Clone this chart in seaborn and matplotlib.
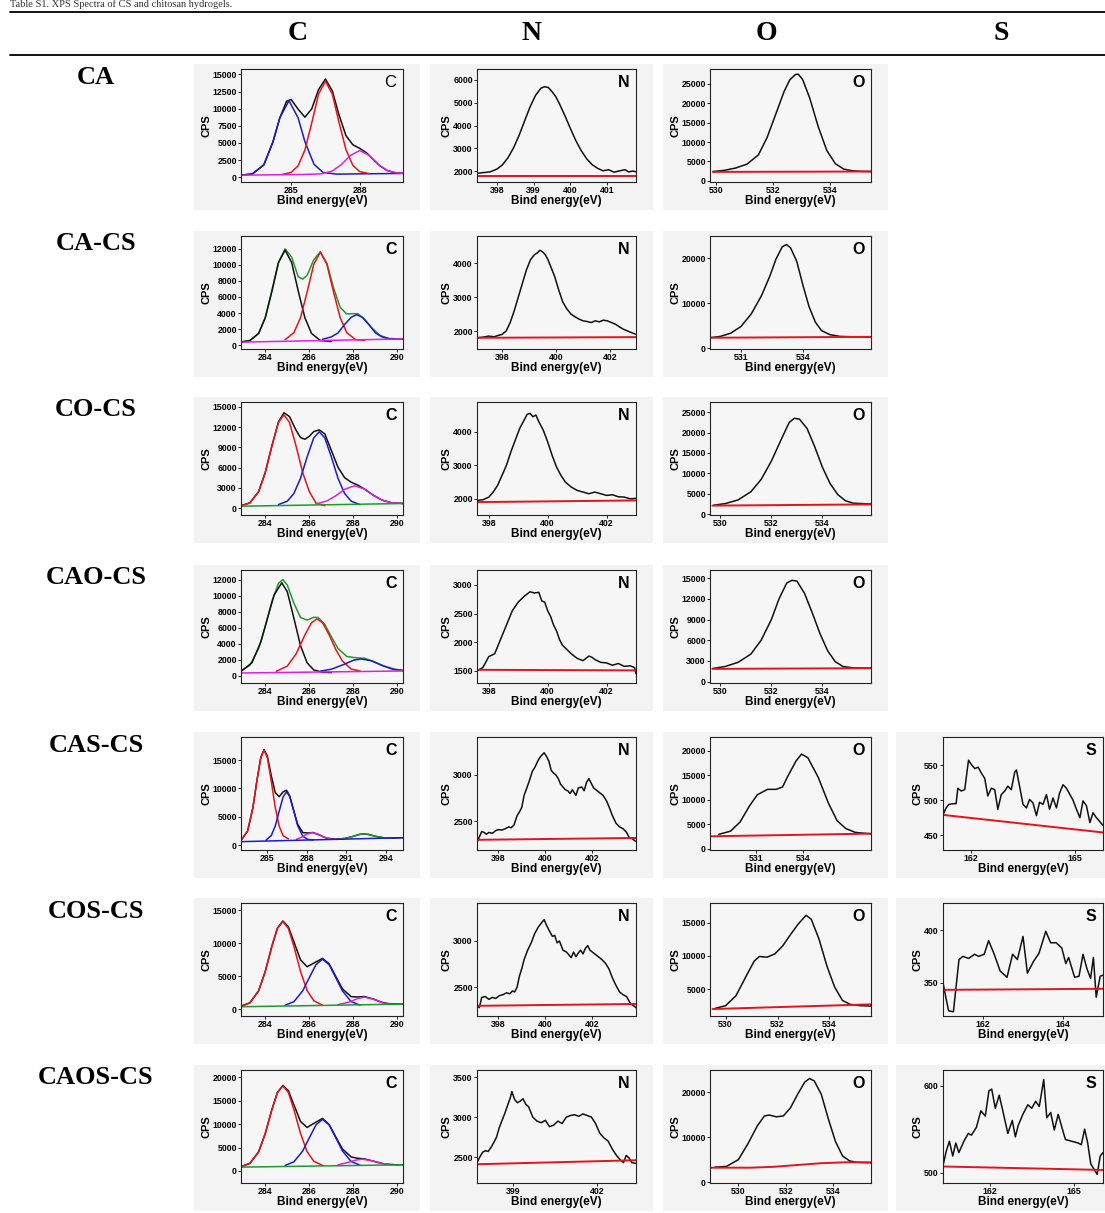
import matplotlib
matplotlib.use("Agg")
import matplotlib.pyplot as plt
import seaborn as sns
from matplotlib.lines import Line2D
from matplotlib.patches import Rectangle

W, H = 1105, 1213

samples = ["CA", "CA-CS", "CO-CS", "CAO-CS", "CAS-CS", "COS-CS", "CAOS-CS"]
elements = ["C", "N", "O", "S"]

# ---------------- C 1s ----------------
ca_c_env_x = [282.8, 283.3, 283.8, 284.2, 284.5, 284.8, 285.0, 285.3, 285.6, 285.9, 286.2, 286.5, 286.8, 287.1, 287.4, 287.7, 288.0, 288.3, 288.6, 288.9, 289.2, 289.5, 289.9]
ca_c_env_y = [300, 480, 1800, 5150, 8660, 11110, 11340, 9950, 8760, 9980, 12800, 14340, 12620, 9050, 6080, 4740, 4220, 3570, 2570, 1620, 990, 690, 570]
ca_c_p1_x = [282.8, 283.3, 283.8, 284.2, 284.5, 284.9, 285.3, 285.6, 286.0, 286.4, 287.0, 288.0, 289.9]
ca_c_p1_y = [300, 480, 1800, 5150, 8660, 11175, 8690, 5200, 1880, 690, 450, 490, 550]
ca_c_p2_x = [284.6, 285.0, 285.3, 285.6, 285.9, 286.2, 286.5, 286.8, 287.1, 287.4, 287.7, 288.0, 288.4]
ca_c_p2_y = [395, 710, 1650, 3960, 7910, 12140, 14030, 12160, 7950, 4020, 1740, 820, 540]
ca_c_p3_x = [282.8, 284.5, 285.5, 286.3, 286.8, 287.2, 287.6, 288.0, 288.4, 288.8, 289.2, 289.6, 289.9]
ca_c_p3_y = [300, 360, 395, 485, 900, 1855, 3190, 3890, 3220, 1915, 990, 640, 560]

cacs_c_env_x = [282.9, 283.3, 283.7, 284.0, 284.3, 284.6, 284.9, 285.2, 285.5, 285.7, 285.9, 286.2, 286.5, 286.8, 287.1, 287.4, 287.7, 288.0, 288.2, 288.5, 288.8, 289.2, 289.6, 290.25]
cacs_c_env_y = [430, 590, 1480, 3420, 6720, 10280, 11960, 10920, 8480, 8200, 8670, 10600, 11600, 10130, 7110, 4700, 3890, 3930, 3920, 3260, 2260, 1240, 860, 790]
cacs_c_p1_x = [282.9, 283.3, 283.7, 284.0, 284.3, 284.6, 284.9, 285.2, 285.5, 285.8, 286.1, 286.5, 287.0]
cacs_c_p1_y = [420, 590, 1480, 3410, 6700, 10250, 11800, 10250, 6700, 3410, 1480, 600, 470]
cacs_c_p2_x = [284.9, 285.3, 285.6, 285.9, 286.2, 286.5, 286.8, 287.1, 287.4, 287.7, 288.1, 288.5]
cacs_c_p2_y = [710, 1570, 3430, 6600, 10030, 11550, 10030, 6600, 3430, 1570, 710, 620]
cacs_c_p3_x = [286.6, 287.0, 287.3, 287.6, 287.9, 288.15, 288.4, 288.7, 289.0, 289.3, 289.7, 290.25]
cacs_c_p3_y = [760, 1050, 1540, 2580, 3490, 3800, 3490, 2580, 1540, 1050, 760, 780]
cacs_c_base_x = [282.9, 290.25]
cacs_c_base_y = [400, 800]

cocs_c_env_x = [282.9, 283.3, 283.7, 284.0, 284.3, 284.6, 284.85, 285.1, 285.4, 285.6, 285.8, 286.0, 286.2, 286.45, 286.7, 287.0, 287.3, 287.6, 287.9, 288.2, 288.5, 288.9, 289.3, 289.7, 290.25]
cocs_c_env_y = [370, 780, 2450, 5270, 9190, 12770, 14110, 13550, 11520, 10450, 10190, 10640, 11330, 11580, 11000, 8540, 6060, 4520, 3840, 3420, 2840, 1930, 1200, 830, 700]
cocs_c_p1_x = [282.9, 283.3, 283.7, 284.0, 284.3, 284.6, 284.85, 285.1, 285.4, 285.7, 286.0, 286.3, 286.7]
cocs_c_p1_y = [370, 780, 2450, 5260, 9170, 12680, 13800, 12680, 9170, 5260, 2450, 780, 370]
cocs_c_p2_x = [284.6, 285.0, 285.3, 285.6, 285.9, 286.2, 286.45, 286.7, 287.0, 287.3, 287.6, 287.9, 288.3]
cocs_c_p2_y = [540, 1040, 2180, 4430, 7580, 10400, 11300, 10400, 7580, 4430, 2180, 1040, 540]
cocs_c_p3_x = [286.3, 286.8, 287.2, 287.6, 288.05, 288.5, 288.9, 289.3, 289.7, 290.25]
cocs_c_p3_y = [620, 1080, 1840, 2790, 3320, 2840, 1930, 1200, 830, 700]
cocs_c_base_x = [282.9, 290.25]
cocs_c_base_y = [300, 700]

caocs_c_env_x = [282.9, 283.3, 283.7, 284.0, 284.3, 284.6, 284.8, 285.0, 285.3, 285.6, 285.9, 286.2, 286.4, 286.7, 287.0, 287.3, 287.7, 288.1, 288.5, 288.9, 289.4, 289.9, 290.25]
caocs_c_env_y = [650, 1290, 3430, 6140, 9240, 11540, 12010, 11320, 9060, 7270, 6950, 7300, 7270, 6420, 4870, 3410, 2410, 2250, 2190, 1810, 1210, 810, 690]
caocs_c_p1_x = [282.9, 283.4, 283.8, 284.1, 284.4, 284.75, 285.0, 285.3, 285.6, 285.9, 286.2, 286.6, 287.0]
caocs_c_p1_y = [540, 1640, 4210, 7180, 10080, 11600, 10500, 7180, 3760, 1620, 730, 430, 400]
caocs_c_p2_x = [284.5, 285.0, 285.4, 285.8, 286.1, 286.35, 286.6, 286.9, 287.2, 287.5, 287.9, 288.3]
caocs_c_p2_y = [560, 1210, 2730, 5100, 6630, 7100, 6630, 5100, 3280, 1840, 840, 600]
caocs_c_p3_x = [286.5, 287.0, 287.5, 288.0, 288.35, 288.8, 289.3, 289.8, 290.25]
caocs_c_p3_y = [580, 820, 1340, 1940, 2100, 1880, 1280, 800, 650]
caocs_c_base_x = [282.9, 290.25]
caocs_c_base_y = [350, 600]

cascs_c_env_x = [283.0, 283.5, 283.9, 284.2, 284.5, 284.75, 285.0, 285.3, 285.6, 285.9, 286.2, 286.45, 286.7, 287.0, 287.3, 287.7, 288.1, 288.5, 289.0, 289.5, 290.2, 290.9, 291.5, 292.0, 292.3, 292.7, 293.2, 293.8, 294.5, 295.3]
cascs_c_env_y = [830, 2470, 6560, 11250, 15450, 16870, 15720, 12230, 9270, 8550, 9410, 9700, 8680, 6130, 3690, 2180, 2140, 2190, 1730, 1210, 1040, 1165, 1520, 1885, 1980, 1870, 1550, 1295, 1250, 1300]
cascs_c_p1_x = [283.0, 283.5, 283.9, 284.2, 284.5, 284.75, 285.0, 285.3, 285.6, 285.9, 286.2, 286.6]
cascs_c_p1_y = [830, 2470, 6560, 11250, 15450, 16800, 15460, 11270, 6660, 3330, 1650, 1090]
cascs_c_p2_x = [284.9, 285.3, 285.6, 285.9, 286.2, 286.45, 286.7, 287.0, 287.3, 287.7, 288.1, 288.5]
cascs_c_p2_y = [870, 1690, 3360, 5990, 8540, 9400, 8570, 6050, 3450, 1520, 985, 910]
cascs_c_p3_x = [287.2, 287.6, 288.0, 288.4, 288.8, 289.3, 289.9, 290.4]
cascs_c_p3_y = [1005, 1385, 1925, 2210, 1970, 1380, 1050, 1020]
cascs_c_p4_x = [290.3, 290.9, 291.5, 292.0, 292.3, 292.7, 293.2, 293.8, 294.4]
cascs_c_p4_y = [1020, 1165, 1520, 1885, 1980, 1870, 1550, 1295, 1250]
cascs_c_base_x = [283.0, 295.3]
cascs_c_base_y = [600, 1300]

coscs_c_env_x = [282.9, 283.3, 283.7, 284.0, 284.3, 284.55, 284.8, 285.05, 285.3, 285.6, 285.9, 286.2, 286.6, 286.9, 287.2, 287.5, 287.9, 288.2, 288.5, 288.9, 289.3, 289.7, 290.25]
coscs_c_env_y = [490, 980, 2820, 5730, 9550, 12270, 13380, 12500, 10220, 7510, 6450, 7000, 7720, 6880, 4990, 3120, 1920, 1880, 1940, 1580, 1060, 820, 800]
coscs_c_p1_x = [282.9, 283.3, 283.7, 284.0, 284.3, 284.55, 284.8, 285.05, 285.3, 285.6, 285.9, 286.2, 286.6]
coscs_c_p1_y = [490, 980, 2820, 5730, 9550, 12270, 13300, 12250, 9550, 5740, 2850, 1320, 620]
coscs_c_p2_x = [284.9, 285.3, 285.7, 286.0, 286.3, 286.6, 286.9, 287.2, 287.5, 287.9, 288.3]
coscs_c_p2_y = [630, 1170, 2810, 4810, 6760, 7600, 6760, 4810, 2810, 1170, 650]
coscs_c_p3_x = [287.3, 287.8, 288.2, 288.5, 288.9, 289.3, 289.7]
coscs_c_p3_y = [720, 1100, 1650, 1850, 1540, 1010, 740]
coscs_c_base_x = [282.9, 290.25]
coscs_c_base_y = [400, 800]

caoscs_c_env_x = [282.9, 283.3, 283.7, 284.0, 284.3, 284.55, 284.8, 285.05, 285.3, 285.6, 285.9, 286.2, 286.6, 286.9, 287.2, 287.5, 287.9, 288.2, 288.5, 288.9, 289.4, 289.9, 290.25]
caoscs_c_env_y = [920, 1590, 4070, 7980, 13110, 16750, 18310, 17160, 14140, 10580, 9290, 10160, 11230, 9910, 7280, 4700, 2970, 2690, 2570, 2080, 1480, 1310, 1300]
caoscs_c_p1_x = [282.9, 283.3, 283.7, 284.0, 284.3, 284.55, 284.8, 285.05, 285.3, 285.6, 285.9, 286.2, 286.6]
caoscs_c_p1_y = [920, 1590, 4070, 7980, 13110, 16750, 18200, 16770, 13140, 8010, 4110, 2080, 1150]
caoscs_c_p2_x = [284.9, 285.3, 285.7, 286.0, 286.3, 286.6, 286.9, 287.2, 287.5, 287.9, 288.3]
caoscs_c_p2_y = [1160, 1940, 4250, 7080, 9840, 11030, 9840, 7100, 4280, 1990, 1220]
caoscs_c_p3_x = [287.3, 287.8, 288.1, 288.4, 288.8, 289.2, 289.7]
caoscs_c_p3_y = [1290, 1870, 2300, 2500, 2200, 1650, 1280]
caoscs_c_base_x = [282.9, 290.25]
caoscs_c_base_y = [800, 1300]

# ---------------- N 1s ----------------
ca_n_x = [397.45, 397.6, 397.8, 398.0, 398.15, 398.3, 398.45, 398.6, 398.75, 398.9,
          399.05, 399.2, 399.3, 399.4, 399.5, 399.6, 399.7, 399.85, 400.0, 400.15,
          400.3, 400.45, 400.6, 400.75, 400.9, 401.05, 401.2, 401.35, 401.5, 401.6,
          401.7, 401.8]
ca_n_y = [1900, 1930, 1960, 2090, 2280, 2590, 3020, 3560, 4190, 4810,
          5320, 5640, 5700, 5670, 5490, 5280, 4970, 4450, 3890, 3350,
          2900, 2540, 2280, 2120, 2010, 2060, 1950, 2010, 2060, 1960,
          2000, 1970]
ca_n_base_x = [397.45, 401.8]
ca_n_base_y = [1800, 1800]

cacs_n_x = [397.07, 397.3, 397.5, 397.7, 397.9, 398.0, 398.15, 398.3, 398.45, 398.6,
            398.75, 398.9, 399.05, 399.2, 399.3, 399.4, 399.5, 399.6, 399.7, 399.8,
            399.95, 400.1, 400.25, 400.4, 400.55, 400.7, 400.85, 401.0, 401.15, 401.3,
            401.45, 401.6, 401.75, 401.9, 402.05, 402.2, 402.35, 402.5, 402.65, 402.8,
            402.96]
cacs_n_y = [1800, 1820, 1850, 1830, 1880, 1900, 2000, 2250, 2600, 3000,
            3400, 3800, 4100, 4250, 4300, 4380, 4330, 4250, 4100, 3900,
            3600, 3200, 2850, 2650, 2500, 2420, 2350, 2300, 2280, 2250,
            2300, 2270, 2320, 2300, 2250, 2200, 2120, 2050, 2000, 1950,
            1900]
cacs_n_base_x = [397.07, 402.96]
cacs_n_base_y = [1800, 1820]

cocs_n_x = [397.6, 397.8, 398.0, 398.15, 398.3, 398.45, 398.6, 398.75, 398.9, 399.05,
            399.2, 399.3, 399.4, 399.5, 399.6, 399.7, 399.85, 400.0, 400.15, 400.3,
            400.45, 400.6, 400.8, 401.0, 401.2, 401.4, 401.6, 401.8, 402.0, 402.2,
            402.4, 402.6, 402.8, 403.0]
cocs_n_y = [1950, 1970, 2050, 2200, 2400, 2700, 3000, 3400, 3750, 4100,
            4350, 4520, 4550, 4450, 4500, 4300, 4050, 3700, 3300, 2950,
            2700, 2500, 2350, 2250, 2200, 2150, 2200, 2150, 2100, 2120,
            2060, 2050, 2000, 2010]
cocs_n_base_x = [397.6, 403.0]
cocs_n_base_y = [1900, 1950]

caocs_n_x = [397.6, 397.8, 398.0, 398.2, 398.4, 398.6, 398.8, 399.0, 399.2, 399.4,
             399.55, 399.7, 399.8, 399.9, 400.0, 400.1, 400.2, 400.3, 400.4, 400.5,
             400.6, 400.8, 401.0, 401.2, 401.4, 401.5, 401.6, 401.8, 402.0, 402.2,
             402.4, 402.6, 402.8, 402.95, 403.0]
caocs_n_y = [1500, 1560, 1750, 1800, 2050, 2300, 2550, 2700, 2800, 2880,
             2860, 2870, 2720, 2700, 2550, 2450, 2300, 2200, 2050, 1950,
             1900, 1800, 1720, 1680, 1760, 1740, 1700, 1650, 1640, 1600,
             1630, 1580, 1590, 1560, 1450]
caocs_n_base_x = [397.6, 403.0]
caocs_n_base_y = [1520, 1510]

cascs_n_x = [397.1, 397.15, 397.3, 397.4, 397.5, 397.6, 397.75, 397.9, 398.0, 398.15,
             398.3, 398.45, 398.55, 398.67, 398.8, 398.9, 399.0, 399.1, 399.2, 399.3,
             399.45, 399.55, 399.7, 399.8, 399.95, 400.05, 400.15, 400.25, 400.35, 400.45,
             400.55, 400.65, 400.75, 400.85, 400.95, 401.05, 401.15, 401.3, 401.4, 401.55,
             401.65, 401.75, 401.85, 401.95, 402.05, 402.2, 402.35, 402.45, 402.6, 402.7,
             402.85, 403.0, 403.15, 403.3, 403.45, 403.55, 403.7, 403.85]
cascs_n_y = [2280, 2300, 2390, 2380, 2360, 2380, 2370, 2400, 2410, 2405,
             2420, 2440, 2430, 2460, 2560, 2600, 2650, 2780, 2850, 2920,
             3040, 3080, 3160, 3200, 3240, 3200, 3150, 3050, 3020, 3000,
             2960, 2900, 2870, 2840, 2830, 2800, 2840, 2780, 2860, 2870,
             2830, 2920, 2960, 2910, 2860, 2830, 2800, 2780, 2720, 2660,
             2560, 2480, 2440, 2420, 2380, 2330, 2310, 2280]
cascs_n_base_x = [397.1, 403.85]
cascs_n_base_y = [2300, 2320]

coscs_n_x = [397.1, 397.2, 397.3, 397.45, 397.6, 397.75, 397.9, 398.05, 398.2, 398.35,
             398.5, 398.6, 398.7, 398.8, 398.9, 399.0, 399.1, 399.25, 399.4, 399.55,
             399.7, 399.85, 399.95, 400.05, 400.15, 400.3, 400.4, 400.5, 400.6, 400.75,
             400.9, 401.0, 401.1, 401.2, 401.3, 401.4, 401.5, 401.6, 401.7, 401.8,
             401.9, 402.0, 402.1, 402.25, 402.4, 402.55, 402.7, 402.85, 403.0, 403.15,
             403.3, 403.45, 403.6, 403.75, 403.85]
coscs_n_y = [2300, 2280, 2390, 2400, 2370, 2390, 2380, 2410, 2420, 2440,
             2430, 2460, 2450, 2500, 2620, 2700, 2800, 2900, 2980, 3080,
             3150, 3200, 3230, 3170, 3120, 3050, 3060, 2980, 3000, 2900,
             2880, 2850, 2820, 2880, 2830, 2870, 2900, 2860, 2920, 2950,
             2900, 2880, 2860, 2830, 2800, 2760, 2700, 2600, 2520, 2450,
             2420, 2400, 2330, 2300, 2280]
coscs_n_base_x = [397.1, 403.85]
coscs_n_base_y = [2300, 2320]

caoscs_n_x = [397.7, 397.8, 397.9, 398.0, 398.1, 398.2, 398.3, 398.4, 398.5, 398.6,
              398.7, 398.8, 398.9, 398.95, 399.05, 399.15, 399.25, 399.35, 399.45, 399.55,
              399.7, 399.85, 400.0, 400.15, 400.3, 400.45, 400.6, 400.75, 400.9, 401.05,
              401.2, 401.35, 401.5, 401.65, 401.8, 401.95, 402.1, 402.25, 402.4, 402.55,
              402.7, 402.85, 402.95, 403.05, 403.15, 403.25, 403.4]
caoscs_n_y = [2430, 2500, 2560, 2580, 2570, 2620, 2680, 2750, 2870, 2960,
              3050, 3150, 3250, 3320, 3220, 3180, 3200, 3230, 3160, 3130,
              3000, 2950, 2930, 2960, 2880, 2900, 2950, 2920, 3000, 3020,
              3030, 3010, 3040, 3020, 3000, 2920, 2800, 2740, 2700, 2600,
              2520, 2460, 2430, 2520, 2490, 2430, 2420]
caoscs_n_base_x = [397.7, 403.4]
caoscs_n_base_y = [2410, 2460]

# ---------------- O 1s ----------------
ca_o_x = [529.9, 530.3, 530.7, 531.1, 531.5, 531.8, 532.1, 532.4, 532.6, 532.8, 532.9, 533.05, 533.3, 533.6, 533.9, 534.2, 534.5, 534.8, 535.1, 535.45]
ca_o_y = [2400, 2700, 3300, 4300, 6700, 11100, 17000, 23000, 26000, 27400, 27450, 26100, 21300, 13900, 7800, 4400, 3000, 2600, 2450, 2400]
ca_o_base_x = [529.9, 535.45]
ca_o_base_y = [2300, 2400]

cacs_o_x = [529.5, 530.0, 530.5, 531.0, 531.5, 532.0, 532.4, 532.7, 533.0, 533.2, 533.4, 533.7, 534.0, 534.3, 534.6, 534.9, 535.3, 535.8, 536.5, 537.3]
cacs_o_y = [2300, 2600, 3300, 4800, 7600, 11700, 16000, 19800, 22500, 23000, 22300, 19300, 14000, 9200, 5800, 3900, 3000, 2600, 2500, 2450]
cacs_o_base_x = [529.5, 537.3]
cacs_o_base_y = [2300, 2500]

cocs_o_x = [529.75, 530.2, 530.7, 531.2, 531.6, 532.0, 532.4, 532.7, 532.9, 533.1, 533.4, 533.7, 534.0, 534.3, 534.6, 534.9, 535.2, 535.9]
cocs_o_y = [2200, 2600, 3500, 5500, 8500, 13000, 18500, 22500, 23500, 23300, 21000, 16500, 11500, 7500, 4800, 3300, 2700, 2500]
cocs_o_base_x = [529.7, 535.9]
cocs_o_base_y = [2100, 2400]

caocs_o_x = [529.7, 530.2, 530.7, 531.2, 531.6, 532.0, 532.3, 532.6, 532.8, 533.0, 533.3, 533.6, 533.9, 534.2, 534.5, 534.8, 535.2, 535.9]
caocs_o_y = [1900, 2200, 2800, 4000, 6000, 9000, 12000, 14300, 14700, 14600, 12800, 10000, 7000, 4500, 2900, 2200, 2000, 1950]
caocs_o_base_x = [529.7, 535.9]
caocs_o_base_y = [1850, 1950]

cascs_o_x = [528.65, 529.4, 530.0, 530.6, 531.1, 531.75, 532.3, 532.7, 533.0, 533.55, 533.9, 534.3, 534.95, 535.6, 536.15, 536.7, 537.3, 538.3]
cascs_o_y = [2900, 3550, 5400, 8700, 11000, 12100, 12100, 12600, 14600, 17900, 19300, 18550, 14600, 9300, 5700, 4100, 3300, 3000]
cascs_o_base_x = [528.1, 538.3]
cascs_o_base_y = [2500, 3050]

coscs_o_x = [529.6, 530.0, 530.4, 530.8, 531.1, 531.3, 531.6, 531.9, 532.2, 532.5, 532.8, 533.1, 533.3, 533.6, 533.9, 534.2, 534.5, 534.8, 535.2, 535.6]
coscs_o_y = [2100, 2500, 4000, 7000, 9200, 9900, 9800, 10300, 11500, 13200, 14800, 16100, 15500, 12500, 8500, 5300, 3300, 2700, 2500, 2450]
coscs_o_base_x = [529.5, 535.6]
coscs_o_base_y = [2000, 2700]

caoscs_o_x = [529.0, 529.5, 530.0, 530.4, 530.8, 531.1, 531.3, 531.6, 531.9, 532.2, 532.5, 532.8, 533.0, 533.2, 533.5, 533.8, 534.1, 534.4, 534.7, 535.0, 535.6]
caoscs_o_y = [3300, 3500, 5000, 8500, 12500, 14700, 14900, 14500, 14700, 16500, 19500, 22200, 23000, 22500, 19500, 14000, 9000, 5800, 4700, 4400, 4300]
caoscs_o_base_x = [528.8, 530.5, 531.5, 532.5, 533.5, 534.5, 535.6]
caoscs_o_base_y = [3200, 3200, 3400, 3800, 4200, 4400, 4400]

# ---------------- S 2p ----------------
cascs_s_x = [161.18, 161.27, 161.35, 161.47, 161.56, 161.61, 161.71, 161.81, 161.92, 162.0,
             162.1, 162.2, 162.3, 162.39, 162.48, 162.58, 162.68, 162.77, 162.87, 162.97,
             163.06, 163.16, 163.26, 163.31, 163.4, 163.5, 163.6, 163.69, 163.79, 163.89,
             163.98, 164.08, 164.18, 164.27, 164.37, 164.47, 164.56, 164.66, 164.76, 164.86,
             164.95, 165.05, 165.15, 165.24, 165.34, 165.44, 165.53, 165.63, 165.82]
cascs_s_y = [479, 489, 494, 495, 495, 517, 513, 515, 557, 551,
             545, 547, 538, 531, 506, 517, 515, 487, 508, 513,
             520, 515, 540, 543, 520, 494, 489, 501, 496, 478,
             497, 494, 508, 487, 503, 489, 510, 522, 517, 508,
             500, 487, 475, 499, 492, 468, 482, 475, 464]
cascs_s_base_x = [161.18, 165.82]
cascs_s_base_y = [479, 454]

coscs_s_x = [161.0, 161.07, 161.14, 161.26, 161.4, 161.5, 161.64, 161.79, 161.89, 162.03,
             162.14, 162.26, 162.43, 162.6, 162.74, 162.86, 163.0, 163.11, 163.26, 163.4,
             163.57, 163.69, 163.83, 163.97, 164.07, 164.14, 164.29, 164.4, 164.5, 164.6,
             164.69, 164.76, 164.83, 164.93, 165.0]
coscs_s_y = [350, 336, 323, 322, 372, 375, 373, 377, 375, 377,
             390, 379, 361, 355, 377, 372, 394, 359, 370, 378,
             399, 388, 388, 383, 368, 374, 355, 356, 377, 363,
             354, 374, 336, 356, 357]
coscs_s_base_x = [161.0, 165.0]
coscs_s_base_y = [343, 344]

caoscs_s_x = [160.3, 160.42, 160.53, 160.65, 160.76, 160.87, 161.05, 161.21, 161.32, 161.5, 161.66,
              161.82, 161.95, 162.05, 162.18, 162.32, 162.45, 162.63, 162.79, 162.9, 163.0,
              163.17, 163.35, 163.49, 163.63, 163.76, 163.92, 164.03, 164.17, 164.3, 164.44,
              164.6, 164.7, 164.93, 165.16, 165.27, 165.39, 165.5, 165.61, 165.84, 165.95,
              166.05]
caoscs_s_y = [508, 525, 536, 519, 534, 523, 536, 545, 543, 552, 571,
              565, 594, 596, 574, 589, 571, 545, 560, 541, 554,
              567, 578, 574, 582, 576, 607, 563, 569, 549, 567,
              549, 538, 536, 534, 532, 550, 534, 510, 498, 519,
              523]
caoscs_s_base_x = [160.3, 166.05]
caoscs_s_base_y = [507, 503]

BLACK, RED, BLUE, MAG, GREEN = "#111111", "#e3141c", "#1a1ad0", "#e21ee2", "#1f9a2a"

# (row, col, curves, xlim, ylim, xticks, yticks)
panels = [
    (0, 0, [(ca_c_env_x, ca_c_env_y, BLACK), (ca_c_p1_x, ca_c_p1_y, BLUE), (ca_c_p2_x, ca_c_p2_y, RED), (ca_c_p3_x, ca_c_p3_y, MAG)],
     (282.8, 289.9), (-700, 15800), [285, 288], range(0, 15001, 2500)),
    (0, 1, [(ca_n_x, ca_n_y, BLACK), (ca_n_base_x, ca_n_base_y, RED)],
     (397.45, 401.8), (1520, 6480), [398, 399, 400, 401], range(2000, 6001, 1000)),
    (0, 2, [(ca_o_x, ca_o_y, BLACK), (ca_o_base_x, ca_o_base_y, RED)],
     (529.8, 535.45), (-300, 28800), [530, 532, 534], range(0, 25001, 5000)),

    (1, 0, [(cacs_c_env_x, cacs_c_env_y, GREEN), (cacs_c_p1_x, cacs_c_p1_y, BLACK), (cacs_c_p2_x, cacs_c_p2_y, RED),
            (cacs_c_p3_x, cacs_c_p3_y, BLUE), (cacs_c_base_x, cacs_c_base_y, MAG)],
     (282.9, 290.25), (-450, 13550), [284, 286, 288, 290], range(0, 12001, 2000)),
    (1, 1, [(cacs_n_x, cacs_n_y, BLACK), (cacs_n_base_x, cacs_n_base_y, RED)],
     (397.07, 402.96), (1470, 4800), [398, 400, 402], [2000, 3000, 4000]),
    (1, 2, [(cacs_o_x, cacs_o_y, BLACK), (cacs_o_base_x, cacs_o_base_y, RED)],
     (529.5, 537.3), (-200, 24900), [531, 534], [0, 10000, 20000]),

    (2, 0, [(cocs_c_env_x, cocs_c_env_y, BLACK), (cocs_c_p1_x, cocs_c_p1_y, RED), (cocs_c_p2_x, cocs_c_p2_y, BLUE),
            (cocs_c_p3_x, cocs_c_p3_y, MAG), (cocs_c_base_x, cocs_c_base_y, GREEN)],
     (282.9, 290.25), (-1000, 15700), [284, 286, 288, 290], range(0, 15001, 3000)),
    (2, 1, [(cocs_n_x, cocs_n_y, BLACK), (cocs_n_base_x, cocs_n_base_y, RED)],
     (397.6, 403.0), (1515, 4890), [398, 400, 402], [2000, 3000, 4000]),
    (2, 2, [(cocs_o_x, cocs_o_y, BLACK), (cocs_o_base_x, cocs_o_base_y, RED)],
     (529.6, 535.9), (-200, 27500), [530, 532, 534], range(0, 25001, 5000)),

    (3, 0, [(caocs_c_env_x, caocs_c_env_y, GREEN), (caocs_c_p1_x, caocs_c_p1_y, BLACK), (caocs_c_p2_x, caocs_c_p2_y, RED),
            (caocs_c_p3_x, caocs_c_p3_y, BLUE), (caocs_c_base_x, caocs_c_base_y, MAG)],
     (282.9, 290.25), (-900, 13200), [284, 286, 288, 290], range(0, 12001, 2000)),
    (3, 1, [(caocs_n_x, caocs_n_y, BLACK), (caocs_n_base_x, caocs_n_base_y, RED)],
     (397.6, 403.0), (1290, 3260), [398, 400, 402], [1500, 2000, 2500, 3000]),
    (3, 2, [(caocs_o_x, caocs_o_y, BLACK), (caocs_o_base_x, caocs_o_base_y, RED)],
     (529.6, 535.9), (-200, 16200), [530, 532, 534], range(0, 15001, 3000)),

    (4, 0, [(cascs_c_env_x, cascs_c_env_y, BLACK), (cascs_c_p1_x, cascs_c_p1_y, RED), (cascs_c_p2_x, cascs_c_p2_y, BLUE),
            (cascs_c_p3_x, cascs_c_p3_y, MAG), (cascs_c_p4_x, cascs_c_p4_y, GREEN), (cascs_c_base_x, cascs_c_base_y, BLUE)],
     (283.0, 295.3), (-875, 19100), [285, 288, 291, 294], [0, 5000, 10000, 15000]),
    (4, 1, [(cascs_n_x, cascs_n_y, BLACK), (cascs_n_base_x, cascs_n_base_y, RED)],
     (397.1, 403.85), (2190, 3410), [398, 400, 402], [2500, 3000]),
    (4, 2, [(cascs_o_x, cascs_o_y, BLACK), (cascs_o_base_x, cascs_o_base_y, RED)],
     (528.1, 538.3), (-300, 22800), [531, 534], range(0, 20001, 5000)),
    (4, 3, [(cascs_s_x, cascs_s_y, BLACK), (cascs_s_base_x, cascs_s_base_y, RED)],
     (161.18, 165.82), (429, 590), [162, 165], [450, 500, 550]),

    (5, 0, [(coscs_c_env_x, coscs_c_env_y, BLACK), (coscs_c_p1_x, coscs_c_p1_y, RED), (coscs_c_p2_x, coscs_c_p2_y, BLUE),
            (coscs_c_p3_x, coscs_c_p3_y, MAG), (coscs_c_base_x, coscs_c_base_y, GREEN)],
     (282.9, 290.25), (-1000, 16100), [284, 286, 288, 290], [0, 5000, 10000, 15000]),
    (5, 1, [(coscs_n_x, coscs_n_y, BLACK), (coscs_n_base_x, coscs_n_base_y, RED)],
     (397.1, 403.85), (2190, 3410), [398, 400, 402], [2500, 3000]),
    (5, 2, [(coscs_o_x, coscs_o_y, BLACK), (coscs_o_base_x, coscs_o_base_y, RED)],
     (529.4, 535.6), (950, 17950), [530, 532, 534], [5000, 10000, 15000]),
    (5, 3, [(coscs_s_x, coscs_s_y, BLACK), (coscs_s_base_x, coscs_s_base_y, RED)],
     (161.0, 165.0), (318, 426), [162, 164], [350, 400]),

    (6, 0, [(caoscs_c_env_x, caoscs_c_env_y, BLACK), (caoscs_c_p1_x, caoscs_c_p1_y, RED), (caoscs_c_p2_x, caoscs_c_p2_y, BLUE),
            (caoscs_c_p3_x, caoscs_c_p3_y, MAG), (caoscs_c_base_x, caoscs_c_base_y, GREEN)],
     (282.9, 290.25), (-2600, 21600), [284, 286, 288, 290], range(0, 20001, 5000)),
    (6, 1, [(caoscs_n_x, caoscs_n_y, BLACK), (caoscs_n_base_x, caoscs_n_base_y, RED)],
     (397.7, 403.4), (2175, 3590), [399, 402], [2500, 3000, 3500]),
    (6, 2, [(caoscs_o_x, caoscs_o_y, BLACK), (caoscs_o_base_x, caoscs_o_base_y, RED)],
     (528.8, 535.6), (-200, 24900), [530, 532, 534], [0, 10000, 20000]),
    (6, 3, [(caoscs_s_x, caoscs_s_y, BLACK), (caoscs_s_base_x, caoscs_s_base_y, RED)],
     (160.3, 166.05), (488, 618), [162, 165], [500, 600]),
]

sns.set_style("ticks")
plt.rcParams["font.family"] = ["Liberation Sans", "DejaVu Sans"]
plt.rcParams.update({"text.color": "black", "axes.labelcolor": "black",
                     "xtick.color": "black", "ytick.color": "black"})

col_left = [241, 477, 710, 943]
col_right = [403, 636, 871, 1103]
row_top = [69, 236, 402, 570, 737, 903, 1070]
ax_h = 113

fig = plt.figure(figsize=(W / 100, H / 100), dpi=100)
fig.patch.set_facecolor("white")


def fx(px):
    return px / W


def fy(py):
    return 1 - py / H


# table header
fig.text(fx(10), fy(9), "Table S1. XPS Spectra of CS and chitosan hydrogels.",
         family="Liberation Serif", fontsize=7.5, va="bottom", ha="left", color="#333333")
fig.add_artist(Line2D([fx(10), 1], [fy(12), fy(12)], color="black", lw=1.3))
fig.add_artist(Line2D([fx(10), 1], [fy(55), fy(55)], color="black", lw=1.3))
for j, el in enumerate(elements):
    fig.text(fx([298, 532, 766, 1001][j]), fy(34), el, family="Liberation Serif",
             fontsize=20, fontweight="bold", ha="center", va="center", color="black")
for i, name in enumerate(samples):
    fig.text(fx(96), fy(row_top[i] + 8), name, family="Liberation Serif",
             fontsize=19, fontweight="bold", ha="center", va="center", color="black")

for row, col, curves, xlim, ylim, xticks, yticks in panels:
    l, r, t = col_left[col], col_right[col], row_top[row]
    # grey scanned-image backdrop
    fig.add_artist(Rectangle((fx(l - 47), fy(t + 141)), fx(r - l + 64), (141 + 5) / H,
                             facecolor="#f3f3f3", edgecolor="none", zorder=0))
    ax = fig.add_axes([fx(l), fy(t + ax_h), fx(r - l), ax_h / H])
    ax.set_facecolor("#f6f6f6")
    for xs, ys, c in curves:
        lw = 1.4 if (c == RED and len(xs) <= 7 and col > 0) else 1.1
        sns.lineplot(x=xs, y=ys, ax=ax, color=c, linewidth=lw, sort=False,
                     estimator=None, legend=False)
    ax.set_xlim(*xlim)
    ax.set_ylim(*ylim)
    ax.set_xticks(list(xticks))
    ax.set_yticks(list(yticks))
    ax.set_xticklabels([str(v) for v in xticks])
    ax.set_yticklabels([str(v) for v in yticks])
    ax.tick_params(direction="out", length=2, width=0.6, pad=1, labelsize=6.3)
    for lab in ax.get_xticklabels() + ax.get_yticklabels():
        lab.set_fontweight("bold")
    ax.set_xlabel("Bind energy(eV)", fontsize=8.5, fontweight="bold", labelpad=0)
    ax.set_ylabel("CPS", fontsize=8, fontweight="bold", labelpad=1)
    for sp in ax.spines.values():
        sp.set_linewidth(0.8)
        sp.set_color("#222222")
    letter = elements[col]
    if row == 0 and col == 0:
        ax.text(0.96, 0.95, letter, transform=ax.transAxes, ha="right", va="top",
                fontsize=12)
    else:
        ax.text(0.96, 0.95, letter, transform=ax.transAxes, ha="right", va="top",
                fontsize=11.5, fontweight="bold")

fig.savefig("out.png", dpi=100)
